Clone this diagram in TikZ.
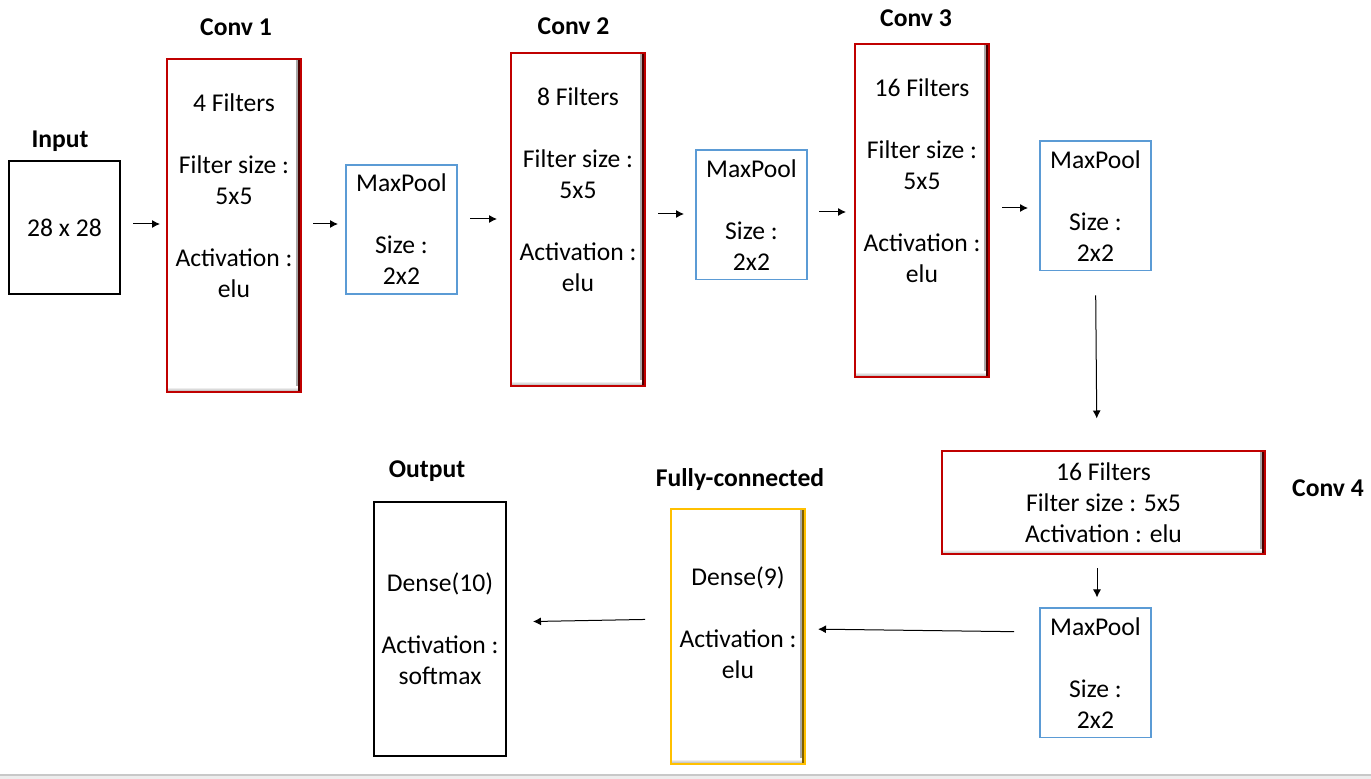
\documentclass[tikz,border=0pt]{standalone}
\usepackage{fontspec}
\setmainfont{Carlito}
\usepackage{tikz}
\usetikzlibrary{positioning,arrows.meta}
\definecolor{CNNRed}{HTML}{C00000}
\definecolor{CNNDark}{HTML}{4A0000}
\definecolor{CNNBlue}{HTML}{5B9BD5}
\definecolor{CNNGold}{HTML}{FFC000}
\definecolor{CNNGoldDark}{HTML}{7F6000}
\definecolor{CNNRule}{HTML}{C8C8C8}
\tikzset{
  cnnbox/.style={
    rectangle,
    draw=black,
    line width=1pt,
    fill=white,
    align=center,
    inner sep=0pt,
    font=\fontsize{12.8}{15.5}\selectfont
  },
  cnnbevel/.style={path picture={
      \fill[left color=white,right color=black!35]
        ([xshift=-2.5pt]path picture bounding box.north east) rectangle (path picture bounding box.south east);
      \fill[top color=white,bottom color=black!35]
        ([yshift=2.5pt]path picture bounding box.south west) rectangle (path picture bounding box.south east);
      \fill[#1] ([xshift=-1.4pt]path picture bounding box.north east) rectangle (path picture bounding box.south east);
    }},
  cnninput/.style={cnnbox,minimum width=55.5pt,minimum height=66.5pt},
  cnnconv/.style={cnnbox,draw=CNNRed,cnnbevel=CNNDark,minimum width=67pt,minimum height=166.5pt},
  cnnwide/.style={cnnbox,draw=CNNRed,cnnbevel=CNNDark,minimum width=161.5pt,minimum height=51.5pt},
  cnnpool/.style={cnnbox,draw=CNNBlue,line width=0.8pt,minimum width=55.7pt,minimum height=64.7pt},
  cnndense/.style={cnnbox,draw=CNNGold,cnnbevel=CNNGoldDark,minimum width=67pt,minimum height=127.5pt},
  cnnout/.style={cnnbox,minimum width=66pt,minimum height=127pt},
  cnnhead/.style={font=\fontsize{12.8}{15.5}\selectfont\bfseries,anchor=center,inner sep=0pt},
  cnnarrow/.style={-{Latex[length=4pt,width=4pt]},line width=0.5pt,draw=black},
}
\begin{document}
\begin{tikzpicture}[x=0.5pt,y=-0.5pt]
  \useasboundingbox (0,0) rectangle (1371,779);
  \fill[black!7] (0,775) rectangle (1371,779);
  \draw[CNNRule,line width=0.6pt] (0,775) -- (1371,775);

  % top row
  \node[cnninput,label={[cnnhead,xshift=-2.25pt,yshift=9.5pt]north:Input}] (input)
    at (64.5,227.5) {28 x 28};
  \node[cnnconv,right=22.5pt of input,yshift=1pt,
    label={[cnnhead,xshift=1pt,yshift=15.5pt]north:Conv 1}] (conv1)
    {4 Filters\\[15.5pt]Filter size :\\5x5\\[15.5pt]Activation :\\elu\\[14.5pt]\mbox{}};
  \node[cnnpool,right=21.5pt of conv1,yshift=-2pt] (pool1)
    {MaxPool\\[15.5pt]Size :\\2x2};
  \node[cnnconv,right=26pt of pool1,yshift=5pt,
    label={[cnnhead,xshift=-2.25pt,yshift=13pt]north:Conv 2}] (conv2)
    {8 Filters\\[15.5pt]Filter size :\\5x5\\[15.5pt]Activation :\\elu\\[14.5pt]\mbox{}};
  \node[cnnpool,right=24.5pt of conv2,yshift=2.25pt] (pool2)
    {MaxPool\\[15.5pt]Size :\\2x2};
  \node[cnnconv,right=23pt of pool2,yshift=2.25pt,
    label={[cnnhead,xshift=-3pt,yshift=12.5pt]north:Conv 3}] (conv3)
    {16 Filters\\[15.5pt]Filter size :\\5x5\\[15.5pt]Activation :\\elu\\[14.5pt]\mbox{}};
  \node[cnnpool,right=24.5pt of conv3,yshift=2.25pt] (pool3)
    {MaxPool\\[15.5pt]Size :\\2x2};

  % bottom row
  \node[cnnwide,below=89.5pt of pool3,xshift=4pt,
    label={[cnnhead,xshift=31pt,yshift=7.25pt]east:Conv 4}] (conv4)
    {16 Filters\\Filter size : 5x5\\Activation : elu};
  \node[cnnpool,below=26pt of conv4,xshift=-4pt] (pool4)
    {MaxPool\\[15.5pt]Size :\\2x2};
  \node[cnndense,left=116.5pt of pool4,yshift=18.25pt,
    label={[cnnhead,xshift=1pt,yshift=14pt]north:Fully-connected}] (dense)
    {Dense(9)\\[15.5pt]Activation :\\elu\\[-2pt]\mbox{}};
  \node[cnnout,left=81.5pt of dense,yshift=3.75pt,
    label={[cnnhead,xshift=-6.5pt,yshift=15pt]north:Output}] (output)
    {Dense(10)\\[15.5pt]Activation :\\softmax};

  \draw[cnnarrow,shorten <=6pt,shorten >=3pt] ([yshift=1.75pt]input.east) -- ([yshift=0.75pt]conv1.west);
  \draw[cnnarrow,shorten <=5.5pt,shorten >=3.5pt] ([yshift=0.75pt]conv1.east) -- ([yshift=2.75pt]pool1.west);
  \draw[cnnarrow,shorten <=6pt,shorten >=6.5pt] ([yshift=5.25pt]pool1.east) -- ([yshift=0.25pt]conv2.west);
  \draw[cnnarrow,shorten <=6pt,shorten >=5.5pt] ([yshift=2.75pt]conv2.east) -- ([yshift=0.5pt]pool2.west);
  \draw[cnnarrow,shorten <=5.5pt,shorten >=4pt] ([yshift=1.5pt]pool2.east) -- ([yshift=-0.75pt]conv3.west);
  \draw[cnnarrow,shorten <=6pt,shorten >=5.5pt] ([yshift=1.25pt]conv3.east) -- ([yshift=-1pt]pool3.west);
  \draw[cnnarrow,shorten <=12pt,shorten >=16pt] (pool3.south) -- ([xshift=-3.25pt]conv4.north);
  \draw[cnnarrow,shorten <=6.5pt,shorten >=5pt] ([xshift=-3.25pt]conv4.south) -- ([xshift=0.75pt]pool4.north);
  \draw[cnnarrow,shorten <=12.5pt,shorten >=6pt] ([yshift=20.5pt]pool4.west) -- ([yshift=3.75pt]dense.east);
  \draw[cnnarrow,shorten <=12.5pt,shorten >=13pt] ([yshift=8.75pt]dense.west) -- ([yshift=3.5pt]output.east);
\end{tikzpicture}
\end{document}
